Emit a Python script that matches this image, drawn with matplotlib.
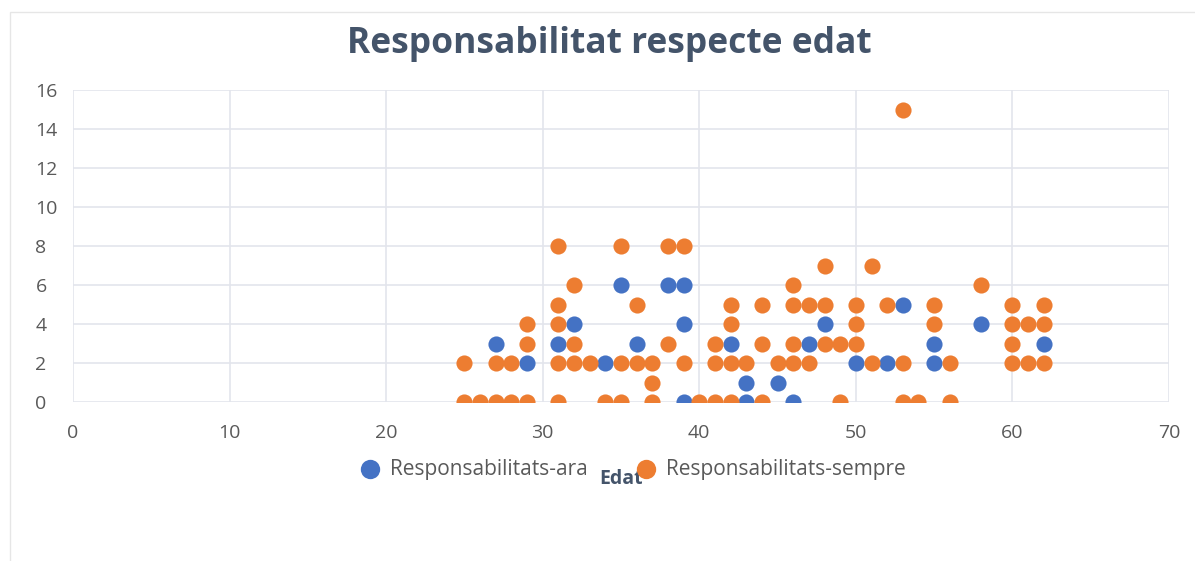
import matplotlib
matplotlib.use("Agg")
import matplotlib.pyplot as plt
from matplotlib.patches import Rectangle

# ── Data ──────────────────────────────────────────────────────────────────────
ara_edat = [27, 29, 31, 32, 34, 35, 36, 38, 39, 39, 39, 42, 43, 43, 45, 46,
            47, 48, 50, 52, 53, 55, 55, 58, 62]
ara_resp = [3, 2, 3, 4, 2, 6, 3, 6, 6, 4, 0, 3, 1, 0, 1, 0,
            3, 4, 2, 2, 5, 3, 2, 4, 3]

sempre_edat = [25, 25, 26, 27, 27, 28, 28, 29, 29, 29,
               31, 31, 31, 31, 31, 32, 32, 32, 33, 34,
               35, 35, 35, 36, 36, 37, 37, 37, 38, 38,
               39, 39, 40, 41, 41, 41, 42, 42, 42, 42,
               43, 44, 44, 44, 45, 46, 46, 46, 46, 47,
               47, 48, 48, 48, 49, 49, 50, 50, 50, 51,
               51, 52, 53, 53, 53, 54, 55, 55, 56, 56,
               58, 60, 60, 60, 60, 61, 61, 62, 62, 62]
sempre_resp = [2, 0, 0, 0, 2, 0, 2, 0, 3, 4,
               8, 5, 4, 2, 0, 6, 3, 2, 2, 0,
               8, 2, 0, 5, 2, 2, 1, 0, 8, 3,
               8, 2, 0, 0, 2, 3, 5, 4, 2, 0,
               2, 5, 3, 0, 2, 6, 5, 3, 2, 5,
               2, 7, 5, 3, 3, 0, 5, 4, 3, 7,
               2, 5, 15, 2, 0, 0, 5, 4, 2, 0,
               6, 5, 4, 3, 2, 4, 2, 5, 4, 2]

x_ticks = list(range(0, 71, 10))
y_ticks = list(range(0, 17, 2))

BLUE = "#4472C4"
ORANGE = "#ED7D31"
TEXT = "#595959"
TITLE = "#44546A"
GRID = "#E3E5EC"

W, H = 1195, 561
fig = plt.figure(figsize=(W / 100, H / 100), dpi=100)
fig.patch.set_facecolor("white")
plt.rcParams["font.family"] = ["Open Sans", "DejaVu Sans"]

# chart frame (left + top edges visible)
fig.patches.append(Rectangle((10 / W, -0.05), 1.2, 1 - 12 / H + 0.05,
                             transform=fig.transFigure, fill=False,
                             edgecolor="#E6E6E6", linewidth=1))

ax = fig.add_axes([73 / W, 1 - 402 / H, (1169 - 73) / W, (402 - 90) / H])
ax.scatter(ara_edat, ara_resp, s=135, color=BLUE, zorder=3, linewidths=0,
           label="Responsabilitats-ara")
ax.scatter(sempre_edat, sempre_resp, s=135, color=ORANGE, zorder=4, linewidths=0,
           label="Responsabilitats-sempre")

ax.set_xlim(0, 70)
ax.set_ylim(0, 16)
ax.set_xticks(x_ticks)
ax.set_yticks(y_ticks)
ax.tick_params(length=0, colors=TEXT, labelsize=14)
ax.tick_params(axis="x", pad=16)
ax.tick_params(axis="y", pad=27)
for lbl in ax.get_yticklabels():
    lbl.set_horizontalalignment("left")
for spine in ax.spines.values():
    spine.set_visible(False)
ax.grid(True, color=GRID, linewidth=1.2)
ax.set_axisbelow(True)

fig.text(0.51, 1 - 44 / H, "Responsabilitat respecte edat", ha="center",
         va="center", fontsize=25.5, fontweight="bold", color=TITLE)
fig.text(621 / W, 1 - 479 / H, "Edat", ha="center", va="center",
         fontsize=14, fontweight="bold", color=TITLE)

fig.legend(loc="center left", bbox_to_anchor=(360 / W, 1 - 469 / H),
           ncol=2, frameon=False, fontsize=15, borderpad=0, borderaxespad=0,
           handlelength=1.0, handletextpad=0.45, columnspacing=2.3,
           markerscale=1.2, labelcolor=TEXT)

fig.savefig("out.png", dpi=100, facecolor="white")
